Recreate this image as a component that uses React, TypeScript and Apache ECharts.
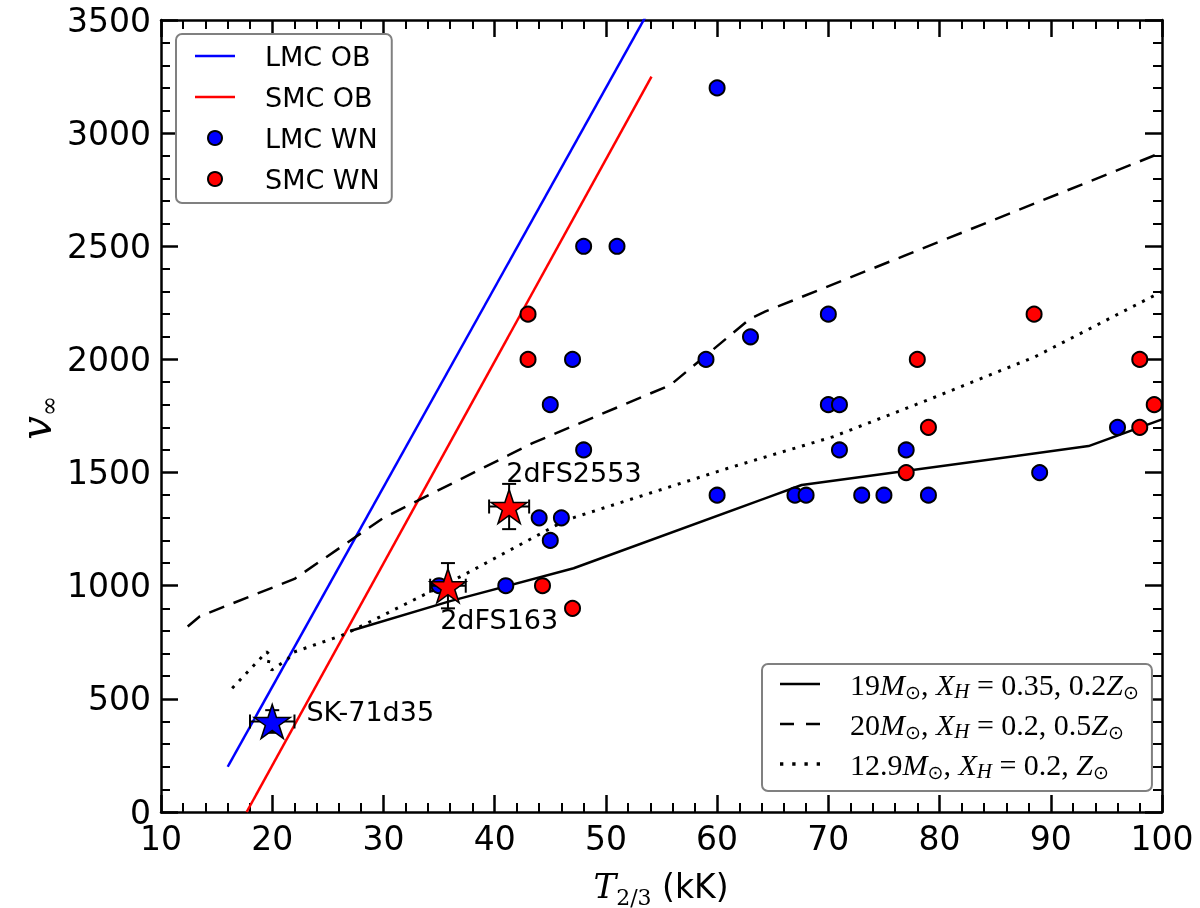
import { useEffect, useRef } from "react";
import * as echarts from "echarts";

// LMC / SMC WN stars: T_2/3 (kK) and terminal velocity (km/s)
const lmcWnT = [60, 48, 51, 63, 70, 47, 59, 45, 70, 71, 48, 71, 77, 96, 60, 67, 68, 73, 75, 79, 89, 44, 46, 45, 41, 35];
const lmcWnV = [3200, 2500, 2500, 2100, 2200, 2000, 2000, 1800, 1800, 1800, 1600, 1600, 1600, 1700, 1400, 1400, 1400, 1400, 1400, 1400, 1500, 1300, 1300, 1200, 1000, 1000];
const smcWnT = [43, 43, 78, 88.5, 98, 99.3, 79, 98, 77, 44.3, 47];
const smcWnV = [2200, 2000, 2000, 2200, 2000, 1800, 1700, 1700, 1500, 1000, 900];

// OB star relations
const lmcObT = [16, 54];
const lmcObV = [200, 3553];
const smcObT = [17.7, 54.1];
const smcObV = [0, 3250];

// model tracks
const track19T = [27, 36, 47.1, 67.6, 93.4, 100];
const track19V = [800, 932, 1077, 1445, 1617, 1735];
const track20T = [12.4, 13.5, 22, 30, 43.4, 55.8, 63, 64.3, 100];
const track20V = [820, 865, 1030, 1300, 1630, 1887, 2181, 2211, 2915];
const track129T = [16.4, 19.5, 19.8, 19.65, 19.95, 21.4, 21.9, 26.2, 28.2, 37.2, 46.4, 60.9, 70.4, 78.9, 88.6, 100];
const track129V = [547, 708, 694, 657, 627, 676, 706, 779, 826, 1047, 1290, 1518, 1658, 1820, 2012, 2300];

// highlighted objects
const starNames = ["SK-71d35", "2dFS163", "2dFS2553"];
const starGalaxy = ["LMC", "SMC", "SMC"];
const starT = [20, 35.8, 41.3];
const starV = [400, 1000, 1350];
const starTErr = [2, 1.6, 1.8];
const starVErr = [50, 100, 100];

const galaxyColor: Record<string, string> = { LMC: "#0000ff", SMC: "#ff0000" };
const labelPos: Record<string, number[]> = {
  "SK-71d35": [53, 8],
  "2dFS163": [11, 52],
  "2dFS2553": [16, -16],
};

const STAR =
  "path://M0,-100L-22.45,-30.9L-95.1,-30.9L-36.3,11.8L-58.8,80.9L0,38.2L58.8,80.9L36.3,11.8L95.1,-30.9L22.45,-30.9Z";
const ICON_SOLID = "path://M0,0H40V2.5H0Z";
const ICON_DASH = "path://M0,0H14V2.5H0ZM26,0H40V2.5H26Z";
const ICON_DOT = "path://M0,0H3V3H0ZM11,0H14V3H11ZM22,0H25V3H22ZM33,0H36V3H33Z";

const pairs = (xs: number[], ys: number[]) => xs.map((x, i) => [x, ys[i]]);

const SERIF = "'Liberation Serif', 'DejaVu Serif', serif";
const SANS = "'DejaVu Sans', sans-serif";

const trackNames: Record<string, string> = {
  m19: "{n|19}{i|M}{s|⊙}{n|, }{i|X}{h|H}{n| = 0.35, 0.2}{i|Z}{s|⊙}",
  m20: "{n|20}{i|M}{s|⊙}{n|, }{i|X}{h|H}{n| = 0.2, 0.5}{i|Z}{s|⊙}",
  m129: "{n|12.9}{i|M}{s|⊙}{n|, }{i|X}{h|H}{n| = 0.2, }{i|Z}{s|⊙}",
};

const App = () => {
  const chartRef = useRef<HTMLDivElement>(null);

  useEffect(() => {
    const chart = echarts.init(chartRef.current, null, { renderer: "svg" });

    const axis = (position: string, min: number, max: number, interval: number, showLabel: boolean) => ({
      type: "value",
      position,
      min,
      max,
      interval,
      axisLine: { show: true, onZero: false, lineStyle: { color: "#000", width: 2.5 } },
      axisTick: { show: true, inside: true, length: 17, lineStyle: { color: "#000", width: 2.5 } },
      minorTick: { show: true, splitNumber: 5, length: 9, lineStyle: { color: "#000", width: 2 } },
      splitLine: { show: false },
      axisLabel: {
        show: showLabel,
        fontSize: 33,
        color: "#000",
        fontFamily: SANS,
        margin: 10,
        formatter: (v: number) => String(v),
      },
    });

    const lineSeries = (name: string, data: number[][], color: string, type: any, width: number) => ({
      type: "line",
      name,
      data,
      symbol: "none",
      z: 2,
      lineStyle: { color, width, type },
      itemStyle: { color },
    });

    const option = {
      animation: false,
      grid: { left: 161, right: 38, top: 20, bottom: 96 },
      xAxis: [axis("bottom", 10, 100, 10, true), axis("top", 10, 100, 10, false)],
      yAxis: [axis("left", 0, 3500, 500, true), axis("right", 0, 3500, 500, false)],
      legend: [
        {
          data: [
            { name: "LMC OB", icon: ICON_SOLID },
            { name: "SMC OB", icon: ICON_SOLID },
            { name: "LMC WN" },
            { name: "SMC WN" },
          ],
          orient: "vertical",
          left: 176,
          top: 34,
          itemWidth: 40,
          itemHeight: 14,
          itemGap: 11,
          padding: [7, 12, 9, 19],
          borderColor: "#808080",
          borderWidth: 2,
          borderRadius: 6,
          backgroundColor: "#fff",
          selectedMode: false,
          textStyle: { fontSize: 27, fontFamily: SANS, color: "#000", lineHeight: 30, padding: [0, 0, 0, 25] },
        },
        {
          data: [
            { name: "m19", icon: ICON_SOLID },
            { name: "m20", icon: ICON_DASH },
            { name: "m129", icon: ICON_DOT },
          ],
          orient: "vertical",
          left: 762,
          top: 664,
          itemWidth: 40,
          itemHeight: 14,
          itemGap: 8,
          padding: [5, 13, 10, 18],
          borderColor: "#808080",
          borderWidth: 2,
          borderRadius: 6,
          backgroundColor: "#fff",
          selectedMode: false,
          formatter: (name: string) => trackNames[name],
          textStyle: {
            color: "#000",
            padding: [0, 0, 0, 25],
            rich: {
              n: { fontFamily: SERIF, fontSize: 30, lineHeight: 34, color: "#000" },
              i: { fontFamily: SERIF, fontSize: 30, fontStyle: "italic", lineHeight: 34, color: "#000" },
              s: { fontFamily: "'DejaVu Sans', sans-serif", fontSize: 19, lineHeight: 17, verticalAlign: "bottom", color: "#000" },
              h: { fontFamily: SERIF, fontSize: 21, fontStyle: "italic", lineHeight: 20, verticalAlign: "bottom", color: "#000" },
            },
          },
        },
      ],
      graphic: [
        {
          type: "text",
          x: 661,
          y: 886,
          style: {
            text: "{t|T}{s|2/3}{k| (kK)}",
            align: "center",
            verticalAlign: "middle",
            rich: {
              t: { fontFamily: "'DejaVu Serif', serif", fontStyle: "italic", fontSize: 34, lineHeight: 44, fill: "#000" },
              s: { fontFamily: "'DejaVu Serif', serif", fontSize: 22, lineHeight: 21, verticalAlign: "bottom", fill: "#000" },
              k: { fontFamily: SANS, fontSize: 33, lineHeight: 44, fill: "#000" },
            },
          },
        },
        {
          type: "text",
          x: 36,
          y: 418,
          rotation: Math.PI / 2,
          style: {
            text: "{v|v}{s|∞}",
            align: "center",
            verticalAlign: "middle",
            rich: {
              v: { fontFamily: "'DejaVu Serif', serif", fontStyle: "italic", fontSize: 42, lineHeight: 50, fill: "#000" },
              s: { fontFamily: "'DejaVu Serif', serif", fontSize: 24, lineHeight: 32, verticalAlign: "bottom", fill: "#000" },
            },
          },
        },
      ],
      series: [
        lineSeries("LMC OB", pairs(lmcObT, lmcObV), "#0000ff", "solid", 2.5),
        lineSeries("SMC OB", pairs(smcObT, smcObV), "#ff0000", "solid", 2.5),
        lineSeries("m19", pairs(track19T, track19V), "#000", "solid", 2.5),
        lineSeries("m20", pairs(track20T, track20V), "#000", [16, 10], 2.5),
        lineSeries("m129", pairs(track129T, track129V), "#000", [3, 7], 3),
        {
          type: "scatter",
          name: "LMC WN",
          data: pairs(lmcWnT, lmcWnV),
          symbol: "circle",
          symbolSize: 15,
          z: 3,
          itemStyle: { color: "#0000ff", borderColor: "#000", borderWidth: 2, opacity: 1 },
        },
        {
          type: "scatter",
          name: "SMC WN",
          data: pairs(smcWnT, smcWnV),
          symbol: "circle",
          symbolSize: 15,
          z: 3,
          itemStyle: { color: "#ff0000", borderColor: "#000", borderWidth: 2, opacity: 1 },
        },
        {
          type: "custom",
          name: "errors",
          z: 4,
          data: starT.map((t, i) => [t, starV[i], starTErr[i], starVErr[i]]),
          encode: { x: 0, y: 1 },
          renderItem: (_params: any, api: any) => {
            const x = api.value(0);
            const y = api.value(1);
            const dx = api.value(2);
            const dy = api.value(3);
            const l = api.coord([x - dx, y]);
            const r = api.coord([x + dx, y]);
            const t = api.coord([x, y + dy]);
            const b = api.coord([x, y - dy]);
            const cap = 7;
            const st = { stroke: "#000", lineWidth: 2 };
            const seg = (x1: number, y1: number, x2: number, y2: number) => ({
              type: "line",
              shape: { x1, y1, x2, y2 },
              style: st,
            });
            return {
              type: "group",
              children: [
                seg(l[0], l[1], r[0], r[1]),
                seg(t[0], t[1], b[0], b[1]),
                seg(l[0], l[1] - cap, l[0], l[1] + cap),
                seg(r[0], r[1] - cap, r[0], r[1] + cap),
                seg(t[0] - cap, t[1], t[0] + cap, t[1]),
                seg(b[0] - cap, b[1], b[0] + cap, b[1]),
              ],
            };
          },
        },
        {
          type: "scatter",
          name: "objects",
          z: 5,
          symbol: STAR,
          symbolSize: [36, 34],
          data: starNames.map((n, i) => ({
            name: n,
            value: [starT[i], starV[i]],
            itemStyle: { color: galaxyColor[starGalaxy[i]] },
            label: { position: labelPos[n] },
          })),
          itemStyle: { borderColor: "#000", borderWidth: 1.5, opacity: 1 },
          label: {
            show: true,
            formatter: "{b}",
            fontSize: 27,
            fontFamily: SANS,
            color: "#000",
            align: "left",
            verticalAlign: "middle",
          },
        },
      ],
    };

    chart.setOption(option as any);

    return () => {
      chart.dispose();
    };
  }, []);

  return <div ref={chartRef} style={{ position: "fixed", left: 0, top: 0, width: 1200, height: 908 }} />;
};

export default App;
